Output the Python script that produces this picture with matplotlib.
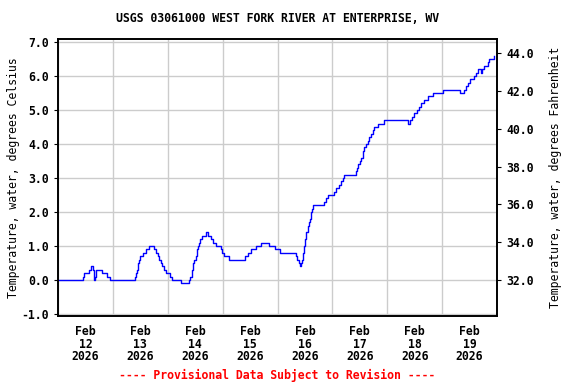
import datetime as dt
import matplotlib
matplotlib.use('Agg')
import matplotlib.pyplot as plt
import matplotlib.dates as mdates
from matplotlib.ticker import FormatStrFormatter

# hours after Feb 12 2026 00:00 where the reading changes, and the new value (deg C)
horas = [
    0, 10.9, 11.5, 12.4, 13.4, 14.5, 15.3, 15.9, 16.3, 16.7, 19.3, 21.4, 22.9,
    33.7, 34.0, 34.4, 34.8, 35.2, 35.6, 36.0, 36.5, 37.2, 38.5, 40.0, 42.2,
    42.9, 43.6, 44.3, 45.0, 45.7, 46.4, 47.2, 48.0, 49.2, 49.9, 54.0, 57.3,
    57.9, 58.5, 59.0, 59.6, 60.2, 60.7, 61.2, 61.7, 62.2, 63.0, 64.9, 65.5,
    67.0, 68.0, 69.2, 71.2, 71.8, 72.6, 73.8, 75.0, 81.6, 83.0, 84.5, 86.4,
    88.9, 92.2, 95.1, 96.9, 103.9, 104.5, 105.3, 106.0, 106.3, 106.6, 107.0,
    107.5, 108.0, 108.6, 109.2, 109.6, 110.0, 110.7, 111.0, 111.4, 116.2,
    117.0, 118.2, 119.4, 120.9, 121.8, 122.8, 123.8, 124.5, 125.2, 130.3,
    130.8, 131.4, 132.0, 132.6, 133.3, 134.0, 134.8, 135.5, 136.1, 136.9,
    137.6, 138.3, 139.0, 140.0, 142.7, 153.0, 154.0, 154.8, 155.7, 156.5,
    157.2, 158.0, 158.7, 159.4, 160.2, 160.9, 162.0, 163.8, 168.6, 175.7,
    177.6, 178.3, 178.8, 179.4, 180.3, 181.2, 182.0, 182.7, 183.3, 183.8,
    184.8, 185.6, 186.5, 187.3, 188.0, 188.5, 190.0, 190.7,
]
temp_c = [
    0.0, 0.1, 0.2, 0.2, 0.3, 0.4, 0.3, 0.0, 0.1, 0.3, 0.2, 0.1, 0.0,
    0.1, 0.2, 0.3, 0.4, 0.5, 0.6, 0.7, 0.7, 0.8, 0.9, 1.0, 0.9,
    0.8, 0.7, 0.6, 0.5, 0.4, 0.3, 0.2, 0.2, 0.1, 0.0, -0.1, 0.0,
    0.1, 0.3, 0.5, 0.6, 0.7, 0.9, 1.0, 1.1, 1.2, 1.3, 1.4, 1.3,
    1.2, 1.1, 1.0, 0.9, 0.8, 0.7, 0.7, 0.6, 0.7, 0.8, 0.9, 1.0,
    1.1, 1.0, 0.9, 0.8, 0.7, 0.6, 0.5, 0.4, 0.5, 0.6, 0.8,
    1.0, 1.2, 1.4, 1.6, 1.7, 1.8, 2.0, 2.1, 2.2, 2.3,
    2.4, 2.5, 2.5, 2.6, 2.7, 2.8, 2.9, 3.0, 3.1, 3.2,
    3.3, 3.4, 3.5, 3.6, 3.8, 3.9, 4.0, 4.1, 4.2, 4.3,
    4.4, 4.5, 4.5, 4.6, 4.7, 4.6, 4.7, 4.8, 4.9, 4.9,
    5.0, 5.1, 5.2, 5.2, 5.3, 5.3, 5.4, 5.5, 5.6, 5.5,
    5.6, 5.7, 5.7, 5.8, 5.9, 5.9, 6.0, 6.1, 6.1, 6.2,
    6.1, 6.2, 6.3, 6.3, 6.4, 6.5, 6.5, 6.6,
]

dias = ['Feb\n12\n2026', 'Feb\n13\n2026', 'Feb\n14\n2026', 'Feb\n15\n2026',
        'Feb\n16\n2026', 'Feb\n17\n2026', 'Feb\n18\n2026', 'Feb\n19\n2026']
ticks_c = [-1.0, 0.0, 1.0, 2.0, 3.0, 4.0, 5.0, 6.0, 7.0]
ticks_f = [32.0, 34.0, 36.0, 38.0, 40.0, 42.0, 44.0]

inicio = dt.datetime(2026, 2, 12)
tempos = [inicio + dt.timedelta(hours=h) for h in horas]

plt.rcParams['font.family'] = 'DejaVu Sans Mono'
plt.rcParams['font.weight'] = 'bold'
plt.rcParams['font.size'] = 8.3

fig = plt.figure(figsize=(5.76, 3.84), dpi=100)
ax = fig.add_axes([58 / 576, 1 - 315.7 / 384, 439 / 576, 276.4 / 384])

ax.step(tempos, temp_c, where='post', color='#0000FF', linewidth=1.0)

ax.set_xlim(inicio, inicio + dt.timedelta(days=8))
ymin, ymax = -1.05, 7.08
ax.set_ylim(ymin, ymax)

# gridlines at midnight, labels at noon
ax.xaxis.set_major_locator(mdates.DayLocator())
ax.xaxis.set_major_formatter(plt.NullFormatter())
ax.set_xticks([inicio + dt.timedelta(days=i, hours=12) for i in range(8)], minor=True)
ax.set_xticklabels(dias, minor=True, linespacing=0.95)
ax.tick_params(axis='x', which='major', length=0)
ax.tick_params(axis='x', which='minor', length=0, pad=7)

ax.set_yticks(ticks_c)
ax.yaxis.set_major_formatter(FormatStrFormatter('%.1f'))
ax.tick_params(axis='y', length=3, direction='out')
ax.grid(True, which='major', color='#CCCCCC', linewidth=1.0)
ax.set_ylabel('Temperature, water, degrees Celsius', labelpad=1)

ax2 = ax.twinx()
ax2.set_ylim(ymin * 9 / 5 + 32, ymax * 9 / 5 + 32)
ax2.set_yticks(ticks_f)
ax2.yaxis.set_major_formatter(FormatStrFormatter('%.1f'))
ax2.tick_params(axis='y', length=3, direction='out')
ax2.set_ylabel('Temperature, water, degrees Fahrenheit', rotation=90, labelpad=11)

for a in (ax, ax2):
    for s in a.spines.values():
        s.set_linewidth(1.2)
        s.set_color('black')

fig.text(277.5 / 576, 1 - 19 / 384, 'USGS 03061000 WEST FORK RIVER AT ENTERPRISE, WV',
         ha='center', va='center')
fig.text(277.5 / 576, 1 - 375 / 384, '---- Provisional Data Subject to Revision ----',
         ha='center', va='center', color='#FF0000')

fig.savefig('out.png', dpi=100)
